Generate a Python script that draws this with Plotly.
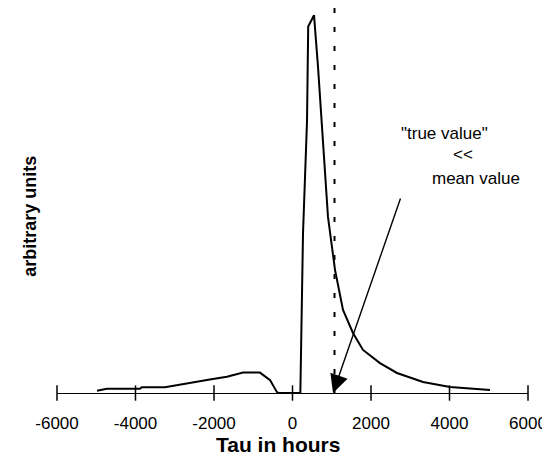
import plotly.graph_objects as go

# Curve data (Tau in hours, arbitrary units)
tau = [-4980, -4730, -3890, -3840, -3250, -2940, -2540, -2030, -1670, -1260, -830, -570, -400, -350,
       170, 200, 268, 370, 400, 446, 548, 650, 904, 1083, 1287, 1541, 1796, 2229, 2662, 3325, 4013, 5032]
value = [0.6, 1.1, 1.1, 1.5, 1.5, 2.1, 2.9, 3.7, 4.3, 5.4, 5.4, 3.4, 0.3, 0.0,
         0.0, 0.0, 42.4, 72.0, 97.0, 98.0, 100.0, 86.3, 46.6, 32.6, 22.0, 15.9, 11.4, 7.9, 5.3, 2.9, 1.6, 0.8]

tick_vals = [-6000, -4000, -2000, 0, 2000, 4000, 6000]
tick_text = ["-6000", "-4000", "-2000", "0", "2000", "4000", "6000"]

mean_tau = 1070          # dashed vertical line (mean value)
true_tau = 1032          # arrow tip ("true value")
arrow_tail = (2764, 51.9)

label_lines = ['"true value"', '<<', 'mean value']
label_pos = [(3860, 68.8), (4344, 63.0), (4675, 56.9)]

fig = go.Figure()

fig.add_trace(go.Scatter(x=tau, y=value, mode="lines",
                         line=dict(color="black", width=2), hoverinfo="skip"))

# tick marks crossing the axis
fig.add_trace(go.Scatter(x=tick_vals, y=[0] * len(tick_vals), mode="markers",
                         marker=dict(symbol="line-ns", size=11,
                                     line=dict(color="black", width=1.5)),
                         hoverinfo="skip", cliponaxis=False))

fig.add_shape(type="line", x0=mean_tau, x1=mean_tau, y0=0, y1=1.0,
              xref="x", yref="paper",
              line=dict(color="black", width=2, dash="5px,14px"))

fig.add_annotation(x=true_tau, y=0, ax=arrow_tail[0], ay=arrow_tail[1],
                   xref="x", yref="y", axref="x", ayref="y",
                   showarrow=True, arrowhead=2, arrowsize=2.6, arrowwidth=1.4,
                   arrowcolor="black", text="", standoff=0)

for txt, (lx, ly) in zip(label_lines, label_pos):
    fig.add_annotation(x=lx, y=ly, xref="x", yref="y", text=txt, showarrow=False,
                       font=dict(family="Liberation Sans, Arial", size=17, color="black"))

fig.add_annotation(x=0.469, y=-0.135, xref="paper", yref="paper", text="<b>Tau in hours</b>",
                   showarrow=False, yanchor="middle",
                   font=dict(family="Liberation Sans, Arial", size=21, color="black"))
fig.add_annotation(x=-0.083, y=0.46, xref="paper", yref="paper", text="<b>arbitrary units</b>",
                   showarrow=False, textangle=-90,
                   font=dict(family="Liberation Sans, Arial", size=18, color="black"))

fig.update_layout(
    width=542, height=448,
    margin=dict(l=49, r=22, t=0, b=63),
    paper_bgcolor="white", plot_bgcolor="white",
    showlegend=False,
    xaxis=dict(range=[-6000, 6000], tickvals=tick_vals, ticktext=tick_text,
               showgrid=False, zeroline=False, showline=True, linecolor="black",
               linewidth=1.2, ticks="", ticklabelstandoff=14,
               tickfont=dict(family="Liberation Sans, Arial", size=17, color="black")),
    yaxis=dict(range=[0, 101.9], visible=False, showgrid=False, zeroline=False),
)

fig.write_html("out.html")
